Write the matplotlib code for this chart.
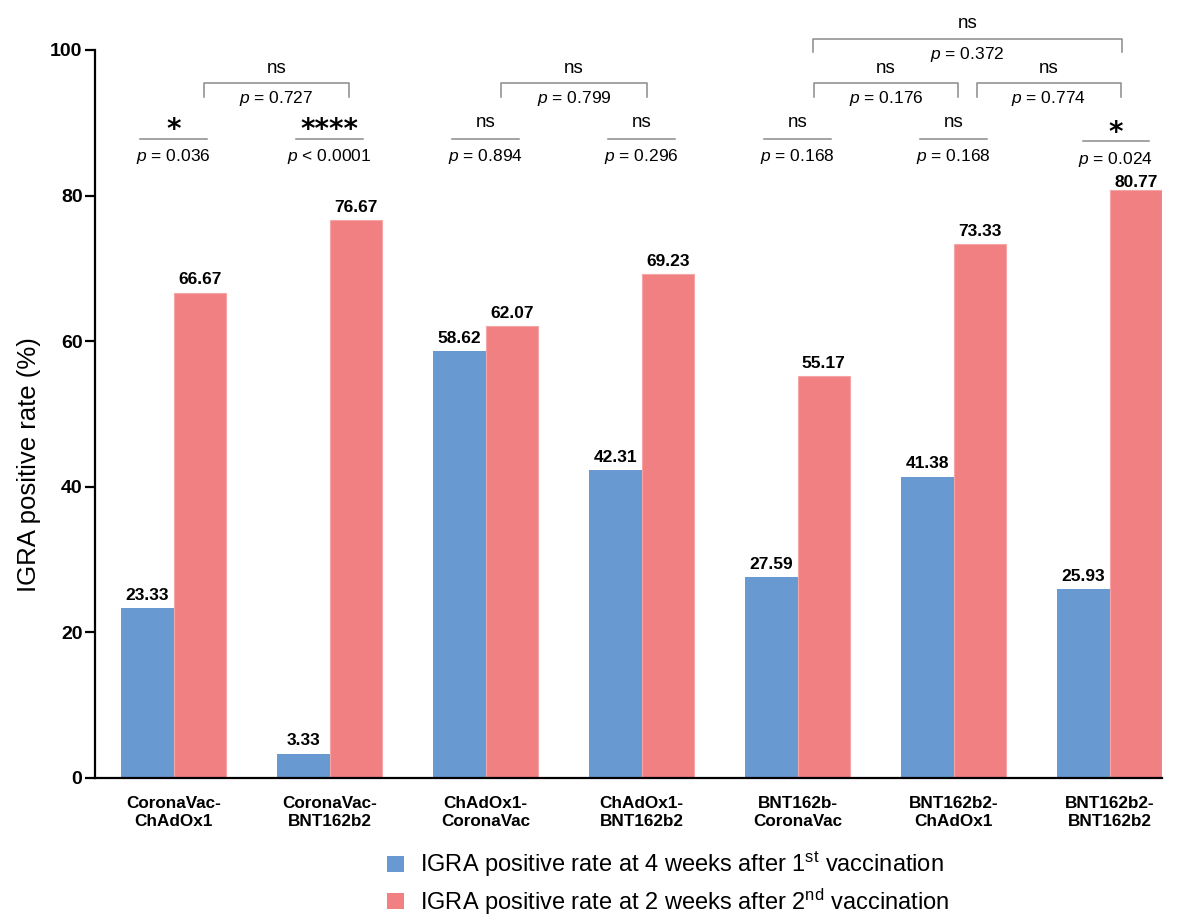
import numpy as np
import matplotlib.pyplot as plt
from matplotlib.patches import Patch

plt.rcParams['font.family'] = ['Liberation Sans', 'DejaVu Sans']
plt.rcParams['mathtext.fontset'] = 'custom'
plt.rcParams['mathtext.rm'] = 'Liberation Sans'
plt.rcParams['mathtext.it'] = 'Liberation Sans:italic'
plt.rcParams['mathtext.bf'] = 'Liberation Sans:bold'

groups = ['CoronaVac-\nChAdOx1', 'CoronaVac-\nBNT162b2', 'ChAdOx1-\nCoronaVac',
          'ChAdOx1-\nBNT162b2', 'BNT162b-\nCoronaVac', 'BNT162b2-\nChAdOx1',
          'BNT162b2-\nBNT162b2']
rate_first = [23.33, 3.33, 58.62, 42.31, 27.59, 41.38, 25.93]
rate_second = [66.67, 76.67, 62.07, 69.23, 55.17, 73.33, 80.77]

within_sig = ['*', '****', 'ns', 'ns', 'ns', 'ns', '*']
within_p = ['= 0.036', '< 0.0001', '= 0.894', '= 0.296', '= 0.168', '= 0.168', '= 0.024']

between_pairs = [(0, 1), (2, 3), (4, 5), (5, 6), (4, 6)]
between_sig = ['ns', 'ns', 'ns', 'ns', 'ns']
between_p = ['= 0.727', '= 0.799', '= 0.176', '= 0.774', '= 0.372']

legend_labels = [r'IGRA positive rate at 4 weeks after 1$^{\mathrm{st}}$ vaccination',
                 r'IGRA positive rate at 2 weeks after 2$^{\mathrm{nd}}$ vaccination']

blue = '#689AD1'
red = '#F08082'
grey = '#8a8a8a'

fig = plt.figure(figsize=(11.78, 9.18), dpi=100)
ax = fig.add_axes([95/1178, 1 - 778/918, (1162 - 95)/1178, (778 - 50)/918])

x = np.arange(len(groups))
w = 0.335
ax.bar(x - w/2, rate_first, w, color=blue)
ax.bar(x + w/2, rate_second, w, color=red, edgecolor='#F6A5A7', linewidth=0.8)

for xi, v in zip(x - w/2, rate_first):
    ax.annotate(f'{v:.2f}', (xi, v), xytext=(0, 6), textcoords='offset points',
                ha='center', va='baseline', fontsize=12.5, fontweight='bold')
for i, (xi, v) in enumerate(zip(x + w/2, rate_second)):
    off = 2.5 if i == 6 else 6   # last label sits tight on its bar in the original
    ax.annotate(f'{v:.2f}', (xi, v), xytext=(0, off), textcoords='offset points',
                ha='center', va='baseline', fontsize=12.5, fontweight='bold')

# within-group comparisons (last group sits a little lower / right in the original)
for i, (s, p) in enumerate(zip(within_sig, within_p)):
    dx = 0.04 if i == 6 else 0.0
    dy = -0.35 if i == 6 else 0.0
    ax.plot([i + dx - 0.213, i + dx + 0.213], [87.8 + dy] * 2, color=grey, lw=1.1, clip_on=False)
    if s == 'ns':
        ax.text(i + dx, 89.4 + dy, s, ha='center', va='baseline', fontsize=13.5)
    else:
        ax.text(i + dx, 87.85 + dy, s, ha='center', va='baseline', fontsize=20,
                fontweight='bold', family='DejaVu Sans')
    ax.text(i + dx, 84.7 + dy, r'$p$ ' + p, ha='center', va='baseline', fontsize=12.5)

# between-group brackets
left_off = [0.195, 0.10, 0.105, 0.147, 0.10]
right_off = [0.122, 0.032, 0.026, 0.07, 0.077]
levels = [0, 0, 0, 0, 1]
for (a, b), s, p, lo, ro, lev in zip(between_pairs, between_sig, between_p, left_off, right_off, levels):
    xl, xr = a + lo, b + ro
    yt, yb = (95.4, 93.6) if lev == 0 else (101.5, 99.7)
    ax.plot([xl, xl, xr, xr], [yb, yt, yt, yb], color=grey, lw=1.1, clip_on=False)
    ax.text((xl + xr) / 2, yt + 1.5, s, ha='center', va='baseline', fontsize=13.5, clip_on=False)
    ax.text((xl + xr) / 2, yt - 2.7, r'$p$ ' + p, ha='center', va='baseline', fontsize=12.5,
            clip_on=False)

ax.set_xlim(-0.504, 6.336)
ax.set_ylim(0, 100)
ax.set_yticks([0, 20, 40, 60, 80, 100])
ax.set_xticks(x)
ax.set_xticklabels(groups, fontsize=12.3, fontweight='bold', linespacing=1.22)
ax.tick_params(axis='x', length=0, pad=13)
ax.tick_params(axis='y', length=7, width=1.6, labelsize=14, pad=2)
for lbl in ax.get_yticklabels():
    lbl.set_fontweight('bold')
ax.set_ylabel('IGRA positive rate (%)', fontsize=18.5)
ax.yaxis.set_label_coords(-0.051, 0.43)

for side in ['top', 'right']:
    ax.spines[side].set_visible(False)
for side in ['left', 'bottom']:
    ax.spines[side].set_linewidth(1.6)

handles = [Patch(facecolor=blue), Patch(facecolor=red)]
fig.legend(handles, legend_labels, loc='upper left', bbox_to_anchor=(387/1178, 1 - 850/918),
           frameon=False, fontsize=17, handlelength=0.7, handleheight=0.7,
           handletextpad=0.7, labelspacing=0.3, borderpad=0, borderaxespad=0)

fig.savefig('out.png', dpi=100)
